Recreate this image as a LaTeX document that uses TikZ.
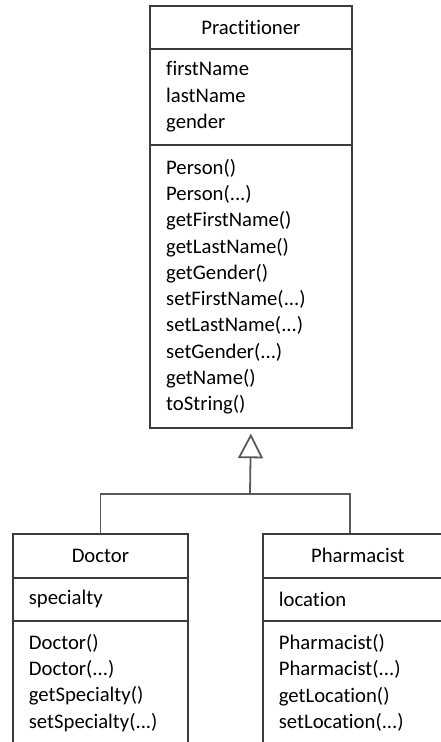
\documentclass[tikz,border=0pt]{standalone}
\usepackage{fontspec}
\setmainfont[Ligatures=NoCommon,RawFeature={-liga;-clig}]{Carlito}
\definecolor{umlline}{RGB}{60,60,60}
\usetikzlibrary{arrows.meta,positioning}
\begin{document}
\begin{tikzpicture}[x=1pt,y=-1pt,
  umlpart/.style={draw=umlline,line width=1.8pt,anchor=north west,inner xsep=16pt,inner ysep=0pt,
    font=\fontsize{20.7}{26.3}\selectfont,align=left},
  practpart/.style={umlpart,minimum width=201.4pt,text width=169.4pt},
  docpart/.style={umlpart,minimum width=175pt,text width=143pt},
  pharmpart/.style={umlpart,minimum width=190pt,text width=158pt},
  umltitle/.style={align=center},
  inherit/.style={draw=umlline!85,line width=1.8pt}
]
  \clip (0,0) rectangle (441,742);
  % Superclass
  \node[practpart,umltitle,minimum height=42.7pt] (prac) at (149.3,5) {Practitioner};
  \node[practpart,minimum height=96.6pt] (pracattr) at (149.3,47.7) {firstName\\lastName\\gender};
  \node[practpart,minimum height=283pt] (pracops) at (149.3,144.3) {Person()\\Person(...)\\
    getFirstName()\\getLastName()\\getGender()\\setFirstName(...)\\setLastName(...)\\
    setGender(...)\\getName()\\toString()};
  % Subclasses
  \node[docpart,umltitle,minimum height=43.7pt] (doc) at (12,533) {Doctor};
  \node[docpart,minimum height=43.3pt] (docattr) at (12,576.7) {specialty};
  \node[docpart,minimum height=124pt] (docops) at (12,620) {Doctor()\\Doctor(...)\\
    getSpecialty()\\setSpecialty(...)};
  \node[pharmpart,umltitle,text width=144pt,minimum height=43.7pt] (pharm) at (262,533) {Pharmacist};
  \node[pharmpart,minimum height=43.3pt] (pharmattr) at (262,576.7) {location};
  \node[pharmpart,minimum height=124pt] (pharmops) at (262,620) {Pharmacist()\\Pharmacist(...)\\
    getLocation()\\setLocation(...)};
  % Generalization
  \coordinate (join) at (250,494);
  \coordinate (pharmtop) at (350,533);
  \draw[inherit,-{Triangle[open,length=24.6pt,width=25pt]},shorten >=4.5pt] (join) -- (pracops.south);
  \draw[inherit] (doc.north) |- (join) -| (pharmtop);
\end{tikzpicture}
\end{document}
